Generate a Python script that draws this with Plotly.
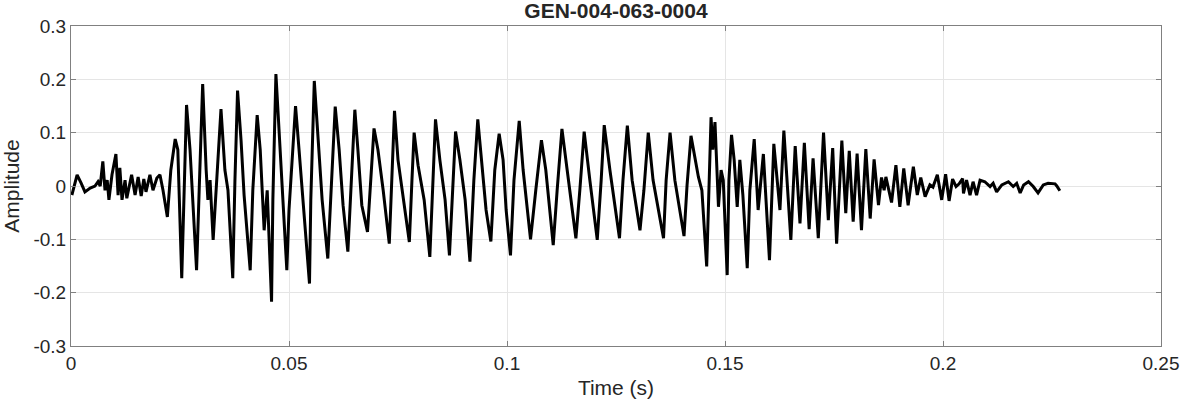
import plotly.graph_objects as go

# turning points of the waveform
time_s = [
    0.0002, 0.0014, 0.0023, 0.0032, 0.0044, 0.0055, 0.0062, 0.0067, 0.0073, 0.0078,
    0.0083, 0.0087, 0.0094, 0.0103, 0.0108, 0.0112, 0.0117, 0.0124, 0.0128, 0.0139,
    0.0147, 0.0154, 0.0161, 0.0167, 0.0172, 0.0181, 0.0188, 0.0197, 0.0204, 0.0211,
    0.0221, 0.0229, 0.0239, 0.0245, 0.0254, 0.0265, 0.0273, 0.0288, 0.0294, 0.0302,
    0.0310, 0.0314, 0.0319, 0.0326, 0.0344, 0.0353, 0.0360, 0.0371, 0.0376, 0.0382,
    0.0390, 0.0397, 0.0411, 0.0417, 0.0427, 0.0434, 0.0443, 0.0450, 0.0460, 0.0463,
    0.0470, 0.0477, 0.0484, 0.0495, 0.0500, 0.0515, 0.0523, 0.0532, 0.0547, 0.0550,
    0.0558, 0.0567, 0.0576, 0.0589, 0.0596, 0.0606, 0.0615, 0.0624, 0.0635, 0.0642,
    0.0651, 0.0658, 0.0667, 0.0680, 0.0688, 0.0695, 0.0704, 0.0716, 0.0730, 0.0736,
    0.0742, 0.0750, 0.0761, 0.0776, 0.0782, 0.0787, 0.0796, 0.0810, 0.0823, 0.0830,
    0.0836, 0.0846, 0.0858, 0.0868, 0.0874, 0.0882, 0.0892, 0.0904, 0.0915, 0.0924,
    0.0933, 0.0943, 0.0952, 0.0963, 0.0972, 0.0982, 0.0991, 0.0998, 0.1008, 0.1016,
    0.1028, 0.1037, 0.1054, 0.1066, 0.1079, 0.1089, 0.1106, 0.1115, 0.1126, 0.1138,
    0.1158, 0.1167, 0.1177, 0.1190, 0.1207, 0.1216, 0.1223, 0.1236, 0.1258, 0.1266,
    0.1276, 0.1287, 0.1305, 0.1314, 0.1324, 0.1335, 0.1359, 0.1365, 0.1374, 0.1385,
    0.1406, 0.1413, 0.1422, 0.1439, 0.1447, 0.1458, 0.1463, 0.1468, 0.1472, 0.1477,
    0.1485, 0.1491, 0.1496, 0.1505, 0.1509, 0.1515, 0.1521, 0.1528, 0.1534, 0.1541,
    0.1551, 0.1557, 0.1567, 0.1576, 0.1588, 0.1602, 0.1612, 0.1626, 0.1635, 0.1651,
    0.1661, 0.1672, 0.1682, 0.1693, 0.1702, 0.1714, 0.1726, 0.1737, 0.1747, 0.1756,
    0.1768, 0.1777, 0.1785, 0.1794, 0.1803, 0.1813, 0.1823, 0.1833, 0.1842, 0.1852,
    0.1859, 0.1865, 0.1869, 0.1874, 0.1882, 0.1892, 0.1901, 0.1910, 0.1920, 0.1932,
    0.1941, 0.1949, 0.1959, 0.1970, 0.1977, 0.1987, 0.1997, 0.2006, 0.2014, 0.2022,
    0.2030, 0.2037, 0.2045, 0.2047, 0.2054, 0.2062, 0.2069, 0.2077, 0.2085, 0.2096,
    0.2108, 0.2115, 0.2123, 0.2135, 0.2150, 0.2161, 0.2169, 0.2177, 0.2185, 0.2196,
    0.2207, 0.2218, 0.2230, 0.2241, 0.2257, 0.2261, 0.2268,
]

amplitude = [
    -0.017, 0.021, 0.006, -0.011, -0.004, 0.000, 0.008, 0.000, 0.046, -0.008,
    0.011, -0.026, 0.021, 0.060, -0.017, 0.034, -0.026, 0.011, -0.023, 0.021,
    -0.017, 0.017, -0.019, 0.013, -0.011, 0.021, -0.008, 0.015, 0.021, -0.008,
    -0.058, 0.030, 0.088, 0.068, -0.173, 0.152, 0.068, -0.158, -0.008, 0.191,
    0.030, -0.026, 0.011, -0.101, 0.144, 0.030, -0.008, -0.173, 0.011, 0.179,
    0.086, -0.017, -0.158, -0.008, 0.133, 0.068, -0.083, -0.008, -0.217, -0.026,
    0.210, 0.105, 0.021, -0.158, -0.045, 0.150, 0.068, -0.026, -0.183, -0.026,
    0.197, 0.086, -0.026, -0.136, -0.026, 0.149, 0.068, -0.036, -0.123, -0.008,
    0.143, 0.068, -0.036, -0.086, 0.021, 0.108, 0.068, -0.008, -0.108, 0.021,
    0.141, 0.049, -0.017, -0.105, 0.011, 0.100, 0.039, -0.026, -0.133, -0.008,
    0.125, 0.049, -0.026, -0.130, -0.026, 0.102, 0.049, -0.026, -0.142, 0.011,
    0.125, 0.030, -0.045, -0.104, 0.030, 0.098, 0.049, -0.045, -0.130, 0.011,
    0.122, 0.030, -0.100, -0.008, 0.086, 0.030, -0.111, -0.008, 0.107, 0.030,
    -0.098, -0.008, 0.102, 0.011, -0.101, 0.011, 0.114, 0.030, -0.098, 0.011,
    0.113, 0.011, -0.083, -0.008, 0.100, 0.011, -0.098, 0.011, 0.100, 0.011,
    -0.094, 0.002, 0.094, 0.017, -0.008, -0.151, 0.011, 0.129, 0.068, 0.120,
    -0.039, 0.030, 0.011, -0.167, 0.011, 0.096, 0.049, -0.039, 0.049, -0.017,
    -0.154, -0.008, 0.088, -0.045, 0.060, -0.139, 0.079, -0.045, 0.104, -0.101,
    0.075, -0.070, 0.081, -0.081, 0.052, -0.098, 0.100, -0.064, 0.071, -0.108,
    0.085, -0.051, 0.066, -0.067, 0.061, -0.083, 0.069, -0.061, 0.050, -0.036,
    0.016, -0.008, 0.017, -0.004, -0.031, 0.039, -0.039, 0.033, -0.036, 0.036,
    -0.017, 0.016, -0.020, 0.002, -0.002, 0.021, -0.026, 0.022, -0.028, 0.013,
    -0.001, 0.004, 0.014, -0.014, 0.011, -0.017, 0.008, -0.017, 0.011, 0.008,
    -0.001, 0.005, -0.011, 0.002, 0.008, -0.001, 0.005, -0.013, 0.002, 0.008,
    -0.001, -0.013, 0.002, 0.005, 0.004, 0.000, -0.009,
]

x_ticks = [0, 0.05, 0.1, 0.15, 0.2, 0.25]
x_labels = ["0", "0.05", "0.1", "0.15", "0.2", "0.25"]
y_ticks = [-0.3, -0.2, -0.1, 0, 0.1, 0.2, 0.3]
y_labels = ["-0.3", "-0.2", "-0.1", "0", "0.1", "0.2", "0.3"]

FONT = "Liberation Sans, Arial, sans-serif"
TEXT = "#262626"

fig = go.Figure()

fig.add_trace(
    go.Scatter(
        x=time_s,
        y=amplitude,
        mode="lines",
        line=dict(color="#000000", width=3),
        showlegend=False,
    )
)

axis_style = dict(
    automargin=False,
    showline=True,
    linecolor="#808080",
    linewidth=1,
    mirror="ticks",
    ticks="inside",
    ticklen=5,
    tickcolor="#808080",
    showgrid=True,
    gridcolor="#e5e5e5",
    gridwidth=1,
    zeroline=False,
    tickfont=dict(family=FONT, size=19, color=TEXT),
)

fig.update_layout(
    width=1182,
    height=404,
    paper_bgcolor="white",
    plot_bgcolor="white",
    margin=dict(l=71, r=21, t=26, b=58),
    title=dict(
        text="<b>GEN-004-063-0004</b>",
        x=0.5,
        xref="paper",
        y=0.974,
        yanchor="middle",
        font=dict(family=FONT, size=21, color=TEXT),
    ),
    xaxis=dict(
        axis_style,
        range=[0, 0.25],
        tickvals=x_ticks,
        ticktext=x_labels,
        title=dict(text="Time (s)", standoff=7,
                   font=dict(family=FONT, size=21, color=TEXT)),
    ),
    yaxis=dict(
        axis_style,
        range=[-0.3, 0.3],
        tickvals=y_ticks,
        ticktext=y_labels,
        title=dict(text="Amplitude", standoff=9,
                   font=dict(family=FONT, size=21, color=TEXT)),
    ),
)

# the page's default body margin would shift the figure by 8px
fig.write_html(
    "out.html",
    config={"displayModeBar": False},
    post_script="document.body.style.margin = '0';",
)
